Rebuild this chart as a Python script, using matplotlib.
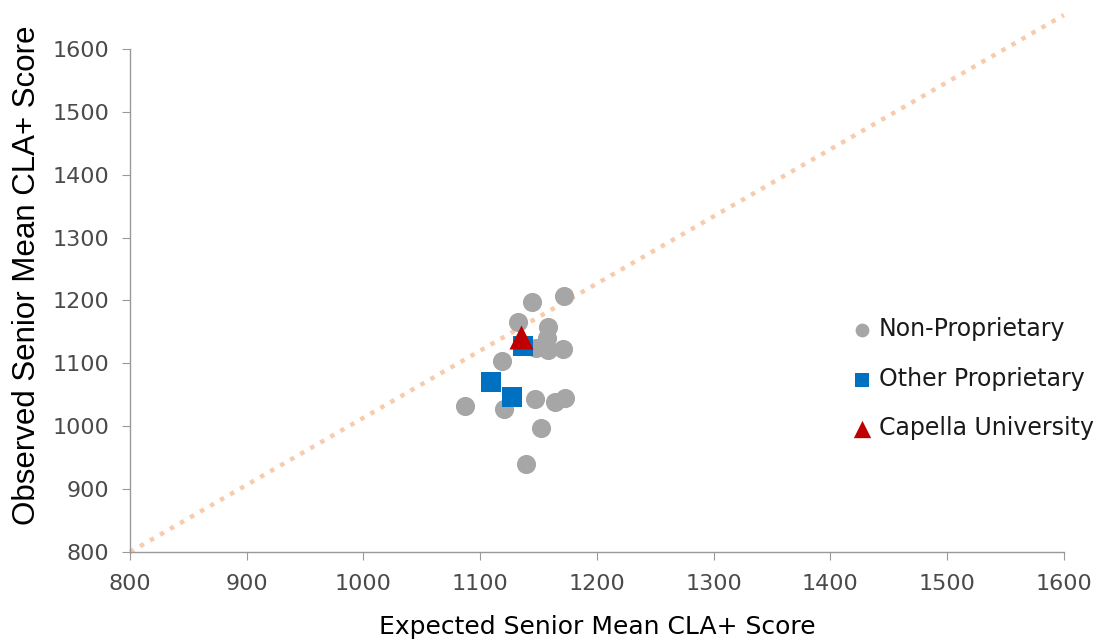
import matplotlib.pyplot as plt

# data
non_prop_x = [1144, 1172, 1132, 1158, 1157, 1148, 1158, 1171, 1119, 1087, 1120, 1147, 1164, 1173, 1152, 1139]
non_prop_y = [1197, 1207, 1165, 1158, 1140, 1124, 1121, 1123, 1103, 1032, 1027, 1044, 1038, 1045, 997, 940]
other_x = [1137, 1109, 1127]
other_y = [1128, 1070, 1046]
capella_x = [1135]
capella_y = [1142]

ref_x = [800, 1600]
ref_y = [800, 1654]

plt.rcParams['font.family'] = ['DejaVu Sans']

fig = plt.figure(figsize=(10.99, 6.42), dpi=100)
ax = fig.add_axes([0.1183, 0.1402, 0.8497, 0.7835])

ax.plot(ref_x, ref_y, linestyle=(0, (1, 1.6)), color='#F8CBAD', lw=3.2,
        clip_on=False, zorder=1)

ax.scatter(non_prop_x, non_prop_y, s=190, color='#A6A6A6', marker='o',
           linewidths=0, label='Non-Proprietary', zorder=2)
ax.scatter(other_x, other_y, s=200, color='#0070C0', marker='s',
           linewidths=0, label='Other Proprietary', zorder=3)
ax.scatter(capella_x, capella_y, s=300, color='#C00000', marker='^',
           linewidths=0, label='Capella University', zorder=4)

ax.set_xlim(800, 1600)
ax.set_ylim(800, 1600)
ax.set_xticks(range(800, 1601, 100))
ax.set_yticks(range(800, 1601, 100))

for s in ['top', 'right']:
    ax.spines[s].set_visible(False)
for s in ['left', 'bottom']:
    ax.spines[s].set_color('#999999')
    ax.spines[s].set_linewidth(1.0)
ax.tick_params(colors='#999999', labelcolor='#4a4a4a', labelsize=16, length=6)
ax.tick_params(axis='y', pad=9)
ax.tick_params(axis='x', pad=10)

ax.set_xlabel('Expected Senior Mean CLA+ Score', fontsize=18, color='black')
ax.xaxis.set_label_coords(0.5, -0.125)
ax.set_ylabel('Observed Senior Mean CLA+ Score', fontsize=22.5, color='black',
              family=['Liberation Sans', 'DejaVu Sans'])
ax.yaxis.set_label_coords(-0.094, 0.551)

leg = ax.legend(loc='center left', bbox_to_anchor=(0.774, 0.344), frameon=False,
                fontsize=17, handletextpad=0.3, labelspacing=1.08,
                markerscale=0.72, handlelength=0.8, borderaxespad=0, borderpad=0)
for t in leg.get_texts():
    t.set_color('#1a1a1a')

fig.savefig('out.png', dpi=100)
